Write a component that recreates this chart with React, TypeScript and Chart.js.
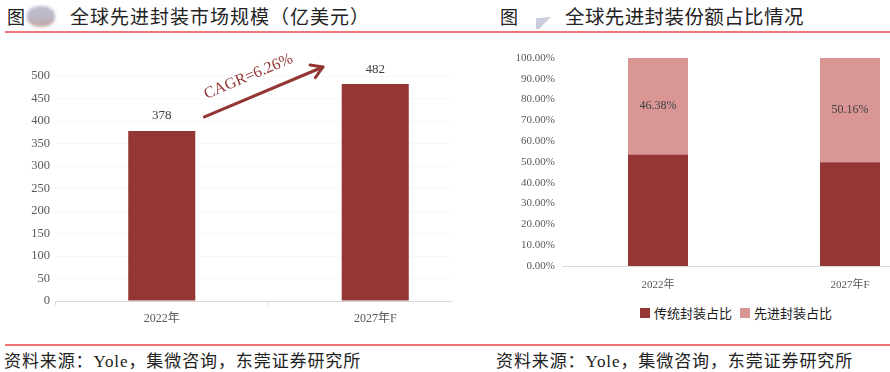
import React, { useEffect, useRef } from "react";
import { Chart, registerables } from "chart.js";

Chart.register(...registerables);

// ---------- data ----------
const leftCategories = ["2022年", "2027年F"];
const marketSize = [378, 482]; // 亿美元
const leftAxisMax = 500;
const leftAxisStep = 50;
const cagrLabel = "CAGR=6.26%";

const rightCategories = ["2022年", "2027年F"];
const traditionalShare = [53.62, 49.84];
const advancedShare = [46.38, 50.16];
const seriesNames = ["传统封装占比", "先进封装占比"];

const leftTitle = "全球先进封装市场规模（亿美元）";
const rightTitle = "全球先进封装份额占比情况";
const sourceText = "资料来源：Yole，集微咨询，东莞证券研究所";

// ---------- styles ----------
const DARK = "#943634";
const LIGHT = "#D99694";
const AXIS = "#d9d9d9";
const TICK = "#595959";
const FONT = "'Liberation Serif', 'Noto Sans CJK SC', serif";
const CJK = "'Noto Sans CJK SC', 'Liberation Serif', sans-serif";
const RED_LINE = "#F27474";

const leftLabelsPlugin = {
  id: "leftLabels",
  afterDatasetsDraw(chart: any) {
    const ctx = chart.ctx;
    const meta = chart.getDatasetMeta(0);
    ctx.save();
    ctx.fillStyle = "#404040";
    ctx.font = `13px ${FONT}`;
    ctx.textAlign = "center";
    ctx.textBaseline = "middle";
    meta.data.forEach((el: any, i: number) => {
      ctx.fillText(String(marketSize[i]), el.x, el.y - 15);
    });
    // CAGR arrow
    const xs = chart.scales.x;
    const ys = chart.scales.y;
    const x0 = xs.getPixelForValue(0);
    const x1 = xs.getPixelForValue(1);
    const w = x1 - x0;
    const sx = x0 + 0.2 * w;
    const ex = x1 - 0.245 * w;
    const sy = ys.getPixelForValue(409);
    const ey = ys.getPixelForValue(520);
    const ang = Math.atan2(ey - sy, ex - sx);
    ctx.strokeStyle = DARK;
    ctx.lineWidth = 3;
    ctx.lineCap = "round";
    ctx.lineJoin = "round";
    ctx.beginPath();
    ctx.moveTo(sx, sy);
    ctx.lineTo(ex, ey);
    ctx.stroke();
    const head = 13;
    ctx.beginPath();
    ctx.moveTo(ex - head * Math.cos(ang - 0.55), ey - head * Math.sin(ang - 0.55));
    ctx.lineTo(ex, ey);
    ctx.lineTo(ex - head * Math.cos(ang + 0.55), ey - head * Math.sin(ang + 0.55));
    ctx.stroke();
    // text
    const mx = (sx + ex) / 2;
    const my = (sy + ey) / 2;
    const nx = Math.sin(ang);
    const ny = -Math.cos(ang);
    const tx = mx + nx * 20 - Math.cos(ang) * 8;
    const ty = my + ny * 20 - Math.sin(ang) * 8;
    ctx.translate(tx, ty);
    ctx.rotate(ang);
    ctx.fillStyle = DARK;
    ctx.font = `16px ${FONT}`;
    ctx.textAlign = "center";
    ctx.textBaseline = "middle";
    ctx.fillText(cagrLabel, 0, 0);
    ctx.restore();
  },
};

const rightLabelsPlugin = {
  id: "rightLabels",
  afterDatasetsDraw(chart: any) {
    const ctx = chart.ctx;
    const meta = chart.getDatasetMeta(1);
    ctx.save();
    ctx.fillStyle = "#404040";
    ctx.font = `12px ${FONT}`;
    ctx.textAlign = "center";
    ctx.textBaseline = "middle";
    meta.data.forEach((el: any, i: number) => {
      ctx.fillText(advancedShare[i].toFixed(2) + "%", el.x, (el.y + el.base) / 2);
    });
    ctx.restore();
  },
};

function LeftChart() {
  const ref = useRef<HTMLCanvasElement>(null);
  useEffect(() => {
    const chart = new Chart(ref.current!, {
      type: "bar",
      data: {
        labels: leftCategories,
        datasets: [
          {
            data: marketSize,
            backgroundColor: DARK,
            borderWidth: 0,
            barPercentage: 0.314,
            categoryPercentage: 1,
          },
        ],
      },
      options: {
        responsive: false,
        animation: false,
        layout: { padding: { top: 36, right: 8, left: 0, bottom: 0 } },
        plugins: { legend: { display: false }, tooltip: { enabled: false } },
        scales: {
          x: {
            afterFit: (s: any) => {
              s.height = 29;
            },
            grid: { display: true, drawOnChartArea: false, color: AXIS, tickLength: 4 },
            border: { color: AXIS },
            ticks: { color: TICK, font: { family: FONT, size: 12 }, padding: 7 },
          },
          y: {
            min: 0,
            max: leftAxisMax,
            afterFit: (s: any) => {
              s.width = 55;
            },
            ticks: { stepSize: leftAxisStep, color: TICK, font: { family: FONT, size: 12.5 }, padding: 5 },
            grid: { color: "#f8f8f8", drawTicks: false },
            border: { display: false },
          },
        },
      },
      plugins: [leftLabelsPlugin],
    } as any);
    return () => chart.destroy();
  }, []);
  return <canvas ref={ref} width={490} height={290} style={{ display: "block" }} />;
}

function RightChart() {
  const ref = useRef<HTMLCanvasElement>(null);
  useEffect(() => {
    const chart = new Chart(ref.current!, {
      type: "bar",
      data: {
        labels: rightCategories,
        datasets: [
          {
            label: seriesNames[0],
            data: traditionalShare,
            backgroundColor: DARK,
            borderWidth: 0,
            barPercentage: 0.3125,
            categoryPercentage: 1,
          },
          {
            label: seriesNames[1],
            data: advancedShare,
            backgroundColor: LIGHT,
            borderWidth: 0,
            barPercentage: 0.3125,
            categoryPercentage: 1,
          },
        ],
      },
      options: {
        responsive: false,
        animation: false,
        layout: { padding: { top: 18, right: 0, left: 0, bottom: 0 } },
        plugins: { legend: { display: false }, tooltip: { enabled: false } },
        scales: {
          x: {
            stacked: true,
            afterFit: (s: any) => {
              s.height = 34;
            },
            grid: { display: false },
            border: { color: AXIS },
            ticks: { color: TICK, font: { family: FONT, size: 11 }, padding: 5 },
          },
          y: {
            stacked: true,
            min: 0,
            max: 100,
            afterFit: (s: any) => {
              s.width = 82;
            },
            ticks: {
              stepSize: 10,
              color: TICK,
              font: { family: FONT, size: 11 },
              padding: 7,
              callback: (v: any) => Number(v).toFixed(2) + "%",
            },
            grid: { display: false, drawTicks: false },
            border: { display: false },
          },
        },
      },
      plugins: [rightLabelsPlugin],
    } as any);
    return () => chart.destroy();
  }, []);
  return <canvas ref={ref} width={466} height={260} style={{ display: "block" }} />;
}

const abs = (s: React.CSSProperties): React.CSSProperties => ({ position: "absolute", ...s });

export default function App() {
  const legendColors = [DARK, LIGHT];
  return (
    <div
      style={{
        position: "fixed",
        left: 0,
        top: 0,
        width: 890,
        height: 372,
        overflow: "hidden",
        background: "#fff",
        fontFamily: CJK,
        color: "#222",
      }}
    >
      {/* titles */}
      <div style={abs({ left: 7, top: 4, fontSize: 18, lineHeight: "24px" })}>图</div>
      <div
        style={abs({
          left: 27,
          top: 6,
          width: 28,
          height: 21,
          borderRadius: "45%",
          background: "linear-gradient(#b9bdd0 0%, #bcb8c8 50%, #c3a69f 100%)",
          filter: "blur(1.5px)",
        })}
      />
      <div style={abs({ left: 70, top: 4, fontSize: 19, lineHeight: "24px", letterSpacing: 1 })}>{leftTitle}</div>
      <div style={abs({ left: 500, top: 4, fontSize: 18, lineHeight: "24px" })}>图</div>
      <div
        style={abs({
          left: 536,
          top: 17,
          width: 15,
          height: 12,
          background: "#c9ccda",
          clipPath: "polygon(0 10%, 100% 0, 20% 100%, 0 100%)",
        })}
      />
      <div style={abs({ left: 565, top: 4, fontSize: 19.5, lineHeight: "24px", letterSpacing: 0.4 })}>{rightTitle}</div>
      <div style={abs({ left: 5, top: 31, width: 885, height: 2, background: RED_LINE })} />

      {/* left chart */}
      <div style={abs({ left: 0, top: 40, width: 452, height: 292, overflow: "hidden" })}>
        <LeftChart />
      </div>

      {/* right chart */}
      <div style={abs({ left: 480, top: 40, width: 410, height: 262, overflow: "hidden" })}>
        <RightChart />
      </div>

      {/* legend */}
      <div
        style={abs({
          left: 640,
          top: 302,
          display: "flex",
          alignItems: "center",
          fontSize: 13,
          lineHeight: "22px",
          color: "#1a1a1a",
        })}
      >
        {seriesNames.map((n, i) => (
          <div key={n} style={{ display: "flex", alignItems: "center", marginRight: i === 0 ? 8 : 0 }}>
            <span style={{ width: 10, height: 10, background: legendColors[i], marginRight: 4, display: "inline-block" }} />
            <span>{n}</span>
          </div>
        ))}
      </div>

      {/* footer */}
      <div style={abs({ left: 5, top: 344, width: 885, height: 2, background: RED_LINE })} />
      <div style={abs({ left: 4, top: 350, fontSize: 17, lineHeight: "24px", letterSpacing: 0.9, fontFamily: FONT })}>
        {sourceText}
      </div>
      <div style={abs({ left: 496, top: 350, fontSize: 17, lineHeight: "24px", letterSpacing: 0.9, fontFamily: FONT })}>
        {sourceText}
      </div>
    </div>
  );
}
